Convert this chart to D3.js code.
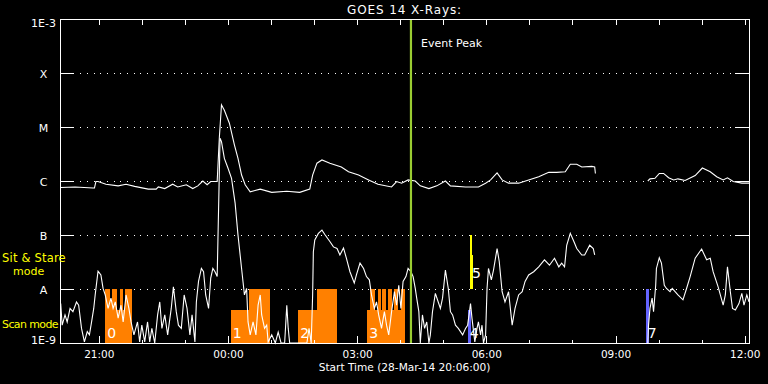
<!DOCTYPE html>
<html><head><meta charset="utf-8">
<script src="https://cdn.jsdelivr.net/npm/d3@7"></script>
<style>
body{margin:0;background:#000;}
svg{display:block;background:#000;font-family:"DejaVu Sans",sans-serif;}
</style>
</head><body>
<svg id="chart" width="768" height="384"></svg>
<script>
// ---------------- DATA ----------------
const chartTitle = "GOES 14 X-Rays:";
const xAxisTitle = "Start Time (28-Mar-14 20:06:00)";
const startTime = new Date(2014, 2, 28, 20, 6, 0);
const durationMinutes = 960;
const eventPeakMinute = 489;          // minutes after start
const yTickValues = [1e-3, 1e-4, 1e-5, 1e-6, 1e-7, 1e-8, 1e-9];
const yTickLabels = ["1E-3", "X", "M", "C", "B", "A", "1E-9"];
const gridValues  = [1e-4, 1e-5, 1e-6, 1e-7, 1e-8];

// GOES long channel (1-8 A): [minutes after start, log10 flux]; null = data gap
const longChannel = [
 [1,-6.12],[21,-6.11],[46,-6.13],[48,-6.13],[50,-6.01],[53,-6.01],[64,-6.06],[81,-6.09],[92,-6.06],
 [104,-6.10],[123,-6.15],[134,-6.15],[137,-6.11],[146,-6.14],[157,-6.06],[164,-6.11],[176,-6.07],
 [185,-6.14],[192,-6.09],[199,-6.00],[205,-6.07],[210,-6.01],[219,-6.01],[222,-5.20],[225,-4.59],
 [229,-4.69],[236,-4.93],[243,-5.33],[248,-5.58],[253,-5.89],[258,-6.07],[265,-6.20],[279,-6.15],
 [295,-6.21],[316,-6.19],[334,-6.21],[348,-6.15],[352,-5.89],[358,-5.67],[365,-5.61],[376,-5.67],
 [392,-5.74],[402,-5.83],[416,-5.89],[430,-5.98],[443,-6.06],[462,-6.11],[469,-6.01],[476,-6.04],
 [485,-5.98],[495,-6.00],[502,-6.09],[514,-6.14],[525,-6.09],[537,-6.00],[544,-6.09],[565,-6.11],
 [583,-6.11],[593,-6.04],[600,-5.98],[609,-5.85],[616,-5.98],[625,-6.04],[639,-6.04],[653,-5.98],
 [667,-5.92],[681,-5.84],[692,-5.84],[704,-5.83],[711,-5.69],[720,-5.69],[727,-5.74],[741,-5.73],
 [745,-5.74],[746,-5.86],[780,null],
 [819,-6.00],[822,-5.96],[829,-5.95],[835,-5.86],[841,-5.86],[848,-5.94],[855,-5.98],[861,-5.96],
 [871,-5.99],[885,-5.90],[895,-5.76],[906,-5.83],[915,-5.92],[924,-5.98],[930,-5.94],[938,-6.01],
 [950,-6.04],[960,-6.04]
];

// GOES short channel (0.5-4 A): [minutes after start, log10 flux]; null = data gap
const shortChannel = [
 [1,-8.27],[3,-8.67],[7,-8.48],[10,-8.61],[14,-8.36],[18,-8.42],[23,-8.24],[26,-8.30],[30,-8.73],
 [34,-8.98],[38,-8.79],[41,-8.85],[44,-8.61],[47,-8.36],[49,-8.11],[53,-7.67],[57,-7.74],[60,-7.99],
 [63,-8.11],[67,-8.36],[71,-8.17],[74,-8.36],[77,-8.24],[81,-8.54],[85,-8.30],[88,-8.61],[92,-8.11],
 [96,-8.36],[99,-8.61],[103,-8.85],[108,-8.61],[111,-8.98],[114,-8.67],[118,-8.98],[122,-8.61],
 [125,-8.98],[128,-8.73],[132,-9.0],[136,-8.48],[139,-8.24],[142,-8.73],[146,-8.48],[150,-8.85],
 [155,-8.36],[158,-7.96],[162,-8.42],[165,-8.67],[169,-8.73],[173,-8.11],[177,-8.36],[181,-8.85],
 [184,-8.48],[188,-8.98],[190,-8.24],[193,-7.86],[197,-7.62],[200,-7.68],[203,-8.11],[207,-8.36],
 [210,-7.80],[213,-7.62],[216,-7.68],[219,-7.77],[220,-7.12],[223,-5.21],[225,-5.27],[229,-5.58],
 [234,-5.76],[239,-5.95],[244,-6.41],[248,-7.00],[253,-7.62],[257,-8.11],[260,-7.99],[262,-8.61],
 [265,-8.85],[269,-8.61],[273,-8.85],[276,-8.30],[279,-8.11],[281,-8.48],[285,-8.73],[288,-8.67],
 [290,-8.98],[295,-8.85],[300,-9.0],[304,-8.80],[308,-9.0],[313,-9.0],[316,-8.30],[318,-8.73],
 [320,-9.0],[332,-9.0],[344,-9.0],[347,-8.73],[350,-9.0],[352,-8.11],[353,-7.31],[355,-7.09],
 [360,-6.97],[365,-6.91],[369,-6.99],[376,-7.12],[381,-7.22],[386,-7.25],[390,-7.37],[395,-7.24],
 [399,-7.43],[404,-7.68],[410,-7.89],[413,-7.74],[418,-7.52],[423,-7.62],[427,-7.77],[431,-7.83],
 [434,-8.11],[438,-8.36],[441,-8.24],[444,-8.48],[448,-8.73],[452,-8.42],[455,-8.67],[458,-8.85],
 [462,-8.42],[466,-8.05],[469,-8.30],[472,-7.93],[475,-8.36],[478,-7.86],[482,-7.77],[485,-7.62],
 [489,-7.68],[492,-7.77],[495,-7.99],[497,-8.17],[500,-8.42],[502,-9.0],[505,-8.48],[508,-8.73],
 [511,-8.61],[514,-9.0],[516,-8.85],[519,-8.42],[523,-8.08],[527,-8.24],[530,-8.36],[533,-8.17],
 [537,-7.65],[541,-7.99],[544,-8.42],[547,-8.48],[551,-8.67],[555,-8.73],[558,-8.79],[561,-8.85],
 [565,-8.73],[568,-8.67],[572,-8.27],[574,-8.54],[578,-8.98],[581,-8.73],[583,-8.61],[586,-8.85],
 [588,-8.67],[590,-9.0],[593,-8.85],[595,-7.99],[597,-7.62],[601,-7.83],[604,-7.65],[609,-7.25],
 [612,-7.49],[616,-8.05],[620,-8.24],[625,-8.05],[630,-8.67],[634,-8.36],[639,-8.11],[644,-8.05],
 [648,-7.86],[653,-7.74],[660,-7.68],[667,-7.59],[675,-7.46],[682,-7.56],[689,-7.43],[695,-7.59],
 [699,-7.52],[703,-7.59],[706,-7.19],[711,-6.97],[716,-7.12],[720,-7.25],[727,-7.37],[731,-7.37],
 [738,-7.19],[743,-7.25],[745,-7.37],[780,null],
 [819,-9.0],[820,-8.67],[822,-8.36],[825,-8.17],[827,-8.42],[830,-7.93],[831,-7.62],[835,-7.42],
 [838,-7.52],[842,-7.93],[845,-7.99],[850,-8.05],[853,-7.99],[857,-8.05],[861,-8.11],[868,-8.20],
 [873,-7.99],[878,-7.77],[885,-7.43],[894,-7.26],[901,-7.46],[906,-7.43],[910,-7.68],[917,-7.96],
 [924,-8.30],[927,-8.11],[930,-7.59],[934,-8.05],[937,-8.36],[941,-8.39],[946,-8.27],[950,-8.08],
 [953,-8.30],[957,-8.11],[960,-8.24]
];

// Observation bars: [label, kind, start minute, end minute, log10 bottom, log10 top]
const obsBars = [
 ["0","scan",63,70,-9,-8],["0","scan",70,72,-9,-8.2],["0","scan",72,79,-9,-8],["0","scan",79,84,-9,-8.39],
 ["0","scan",84,88,-9,-8],["0","scan",88,91,-9,-8.39],["0","scan",91,101,-9,-8],
 ["1","scan",238,263,-9,-8.39],["1","scan",263,293,-9,-8],
 ["2","scan",332,358,-9,-8.39],["2","scan",358,386,-9,-8],
 ["3","scan",428,432,-9,-8.39],["3","scan",432,439,-9,-8],["3","scan",439,443,-9,-8.39],
 ["3","scan",443,447,-9,-8],["3","scan",447,449,-9,-8.39],["3","scan",449,454,-9,-8],
 ["3","scan",454,457,-9,-8.39],["3","scan",457,462,-9,-8],["3","scan",462,466,-9,-8.39],
 ["3","scan",466,471,-9,-8],["3","scan",471,475,-9,-8.39],["3","scan",475,481,-9,-8],
 ["4","blue",568,573,-9,-8.39],
 ["5","sit",571.2,574,-8,-7],["5","sit",574,575.8,-8,-7.37],
 ["7","blue",816,820,-9,-8]
];
const barColors = {scan:"#ff8000", blue:"#6464ff", sit:"#ffff00"};

// ---------------- CHART ----------------
const L = 60, R = 749, T = 19, B = 343;
const svg = d3.select("#chart");
const minute = m => new Date(startTime.getTime() + m * 60000);
const x = d3.scaleTime().domain([startTime, minute(durationMinutes)]).range([L, R]);
const y = d3.scaleLog().domain([1e-9, 1e-3]).range([B, T]).clamp(true);

// grid
svg.append("g").selectAll("line").data(gridValues).join("line")
  .attr("x1", L).attr("x2", R).attr("y1", d => y(d)).attr("y2", d => y(d))
  .attr("stroke", "#fff").attr("stroke-width", 1).attr("stroke-dasharray", "1,5.7")
  .attr("shape-rendering", "crispEdges");

// bars (orange/blue/yellow)
svg.append("g").selectAll("rect").data(obsBars).join("rect")
  .attr("x", d => x(minute(d[2])))
  .attr("width", d => x(minute(d[3])) - x(minute(d[2])))
  .attr("y", d => y(10 ** d[5]))
  .attr("height", d => y(10 ** d[4]) - y(10 ** d[5]))
  .attr("fill", d => barColors[d[1]])
  .attr("shape-rendering", "crispEdges");

// curves
const line = d3.line()
  .defined(d => d[1] !== null)
  .x(d => x(minute(d[0])))
  .y(d => y(10 ** d[1]));
[longChannel, shortChannel].forEach(series => {
  svg.append("path").datum(series).attr("d", line)
    .attr("fill", "none").attr("stroke", "#fff").attr("stroke-width", 1.1)
    .attr("stroke-linejoin", "miter");
});

// bar labels
const labelGroups = d3.groups(obsBars, d => d[0]).map(([lab, rows]) => ({
  lab, kind: rows[0][1], start: d3.min(rows, r => r[2])
}));
svg.append("g").selectAll("text").data(labelGroups).join("text")
  .attr("x", d => x(minute(d.start)) + 2)
  .attr("y", d => d.kind === "sit" ? y(1e-8) - 11 : y(1e-9) - 5)
  .attr("fill", "#fff").attr("font-size", 14).text(d => d.lab);

// event peak
const px = x(minute(eventPeakMinute));
svg.append("line").attr("x1", px).attr("x2", px).attr("y1", T).attr("y2", B)
  .attr("stroke", "yellowgreen").attr("stroke-width", 2.2);
svg.append("text").attr("x", px + 10).attr("y", 47).attr("fill", "#fff")
  .attr("font-size", 11).text("Event Peak");

// axes
function styleAxis(g) {
  g.select(".domain").remove();
  g.selectAll(".tick line").attr("stroke", "#fff").attr("shape-rendering", "crispEdges");
  g.selectAll(".tick text").attr("fill", "#fff").attr("font-family", "DejaVu Sans");
}
svg.append("g").attr("transform", `translate(0,${B})`)
  .call(d3.axisBottom(x).ticks(d3.timeHour.every(1)).tickFormat("").tickSizeInner(-3.5).tickSizeOuter(0))
  .call(styleAxis);
svg.append("g").attr("transform", `translate(0,${B})`)
  .call(d3.axisBottom(x).ticks(d3.timeHour.every(3)).tickFormat(d3.timeFormat("%H:%M"))
        .tickSizeInner(-7).tickSizeOuter(0).tickPadding(8))
  .call(styleAxis)
  .call(g => g.selectAll("text").attr("font-size", 10.5));
svg.append("g").attr("transform", `translate(0,${T})`)
  .call(d3.axisTop(x).ticks(d3.timeHour.every(1)).tickFormat("").tickSizeInner(-5.5).tickSizeOuter(0))
  .call(styleAxis);

svg.append("g").attr("transform", `translate(${L},0)`)
  .call(d3.axisLeft(y).tickValues(yTickValues).tickFormat((d, i) => yTickLabels[i])
        .tickSizeInner(-14).tickSizeOuter(0))
  .call(styleAxis)
  .call(g => g.selectAll("text")
     .attr("text-anchor", "middle").attr("x", -16.5).attr("font-size", 11)
     .attr("dy", (d, i) => i === 0 ? "0.7em" : i === yTickValues.length - 1 ? "0.05em" : "0.42em"));
svg.append("g").attr("transform", `translate(${R},0)`)
  .call(d3.axisRight(y).tickValues(yTickValues).tickFormat("").tickSizeInner(-14).tickSizeOuter(0))
  .call(styleAxis);

// frame
svg.append("rect").attr("x", L).attr("y", T).attr("width", R - L).attr("height", B - T)
  .attr("fill", "none").attr("stroke", "#fff").attr("stroke-width", 1).attr("shape-rendering", "crispEdges");

// titles
svg.append("text").attr("x", (L + R) / 2).attr("y", 14).attr("text-anchor", "middle")
  .attr("fill", "#fff").attr("font-size", 12).attr("letter-spacing", 0.9).text(chartTitle);
svg.append("text").attr("x", (L + R) / 2).attr("y", 371).attr("text-anchor", "middle")
  .attr("fill", "#fff").attr("font-size", 10.6).text(xAxisTitle);

// mode labels
const modeLabels = [["Sit & Stare", 2, 262, 11.5, 0.2], ["mode", 13, 275, 11, 0], ["Scan mode", 2, 328, 11, -0.6]];
svg.append("g").selectAll("text").data(modeLabels).join("text")
  .attr("x", d => d[1]).attr("y", d => d[2]).attr("fill", "#ffff00")
  .attr("font-size", d => d[3]).attr("letter-spacing", d => d[4])
  .text(d => d[0]);
</script>
</body></html>
